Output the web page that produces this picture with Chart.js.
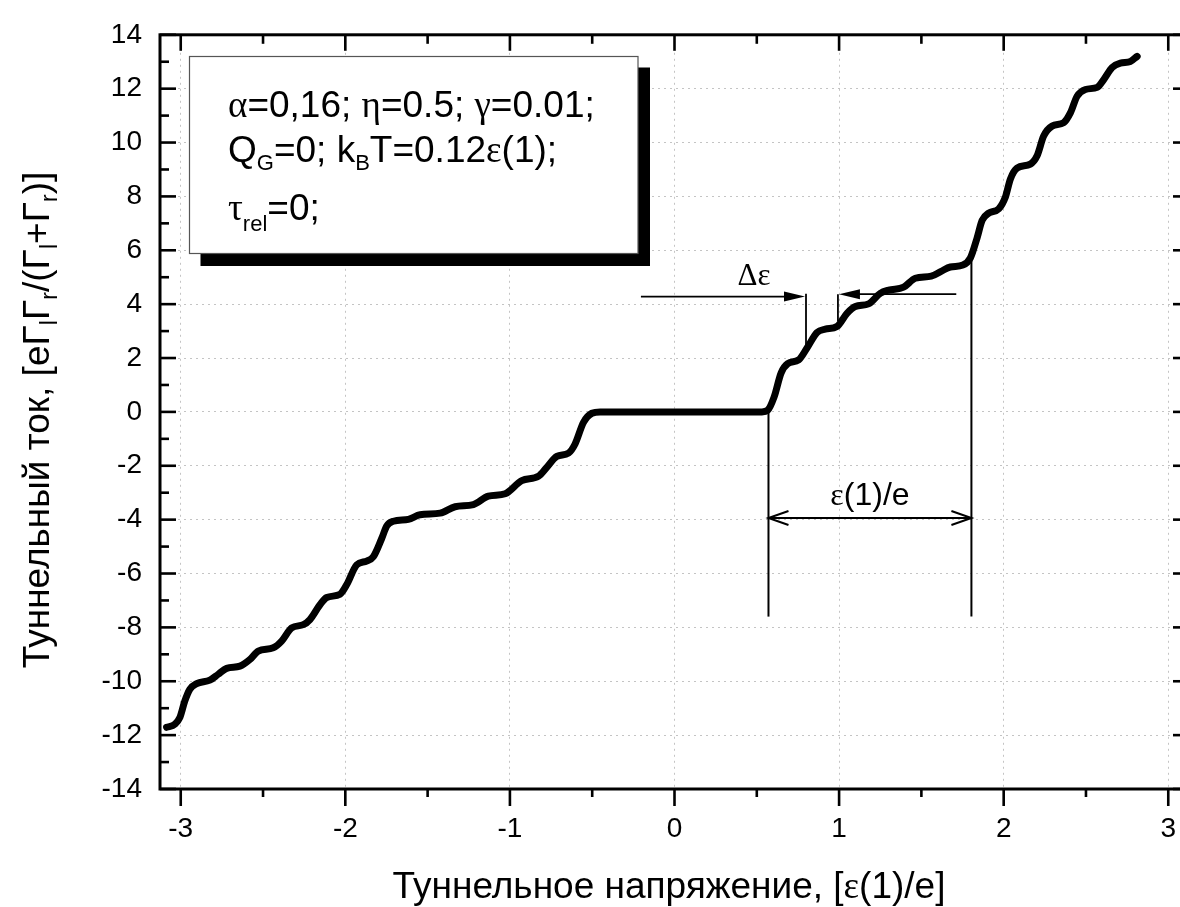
<!DOCTYPE html>
<html>
<head>
<meta charset="utf-8">
<script src="https://cdn.jsdelivr.net/npm/chart.js@4.4.0/dist/chart.umd.min.js"></script>
<style>
  html, body { margin: 0; padding: 0; background: #fff; overflow: hidden; }
  #wrap { width: 1200px; height: 907px; }
</style>
</head>
<body>
<div id="wrap"><canvas id="ivChart" width="1200" height="907"></canvas></div>
<script>
// Tunnel voltage, [e(1)/e]
const voltage = [
  -3.086, -3.035, -3.005, -2.975, -2.945, -2.903, -2.823, -2.772, -2.721, -2.640,
  -2.579, -2.529, -2.438, -2.387, -2.326, -2.255, -2.215, -2.154, -2.113, -2.032,
  -1.992, -1.931, -1.870, -1.830, -1.779, -1.748, -1.708, -1.617, -1.546, -1.424,
  -1.333, -1.222, -1.131, -1.029, -0.928, -0.827, -0.776, -0.715, -0.644, -0.604,
  -0.553, -0.502, -0.452, 0.531, 0.566, 0.605, 0.648, 0.688, 0.754, 0.805,
  0.866, 0.916, 0.987, 1.048, 1.099, 1.179, 1.250, 1.301, 1.392, 1.463,
  1.560, 1.620, 1.676, 1.752, 1.798, 1.838, 1.869, 1.909, 1.970, 2.010,
  2.041, 2.081, 2.162, 2.203, 2.243, 2.294, 2.365, 2.406, 2.446, 2.497,
  2.568, 2.608, 2.659, 2.709, 2.770, 2.811
];
// Tunnel current, [e G_l G_r / (G_l + G_r)]
const current = [
  -11.71, -11.59, -11.34, -10.73, -10.30, -10.09, -9.96, -9.74, -9.52, -9.44,
  -9.19, -8.88, -8.76, -8.51, -8.02, -7.90, -7.71, -7.16, -6.89, -6.77,
  -6.42, -5.68, -5.54, -5.38, -4.70, -4.23, -4.06, -3.99, -3.82, -3.76,
  -3.52, -3.44, -3.13, -3.04, -2.55, -2.39, -2.06, -1.65, -1.53, -1.19,
  -0.39, -0.05, 0, 0, 0.06, 0.55, 1.45, 1.79, 1.93, 2.37,
  2.95, 3.07, 3.17, 3.66, 3.91, 4.01, 4.40, 4.52, 4.63, 4.96,
  5.04, 5.22, 5.38, 5.45, 5.72, 6.45, 7.11, 7.38, 7.54, 7.97,
  8.65, 9.05, 9.20, 9.51, 10.24, 10.61, 10.74, 11.11, 11.72, 11.97,
  12.05, 12.34, 12.79, 12.95, 13.01, 13.20
];

const xTicks = [-3, -2, -1, 0, 1, 2, 3];
const xMinorTicks = [-2.5, -1.5, -0.5, 0.5, 1.5, 2.5];
const yTicks = [-14, -12, -10, -8, -6, -4, -2, 0, 2, 4, 6, 8, 10, 12, 14];
const yMinorTicks = [-13, -11, -9, -7, -5, -3, -1, 1, 3, 5, 7, 9, 11, 13];

// annotation points, in data units
const periodStart = 0.571;
const periodEnd = 1.804;
const periodTop = 5.63;
const markBottom = -7.6;
const periodArrowY = -3.94;
const gapLeft = 0.799;
const gapRight = 0.993;
const gapArrowFrom = -0.204;
const gapArrowTo = 1.712;

const SANS = '"Liberation Sans", Arial, sans-serif';
const SERIF = '"Liberation Serif", "Times New Roman", serif';

// text runs {t, f, dy}: measure and draw side by side
function runsWidth(ctx, runs) {
    let w = 0;
    runs.forEach(r => { ctx.font = r.f; w += ctx.measureText(r.t).width; });
    return w;
}
function drawRuns(ctx, x, y, runs) {
    runs.forEach(r => {
        ctx.font = r.f;
        ctx.fillText(r.t, x, y + (r.dy || 0));
        x += ctx.measureText(r.t).width;
    });
    return x;
}
function drawCentered(ctx, cx, baseY, runs) {
    const align = ctx.textAlign;
    ctx.textAlign = 'left';
    const w = runsWidth(ctx, runs);
    drawRuns(ctx, cx - w / 2, baseY, runs);
    ctx.textAlign = align;
}

function line(ctx, x1, y1, x2, y2) {
    ctx.beginPath();
    ctx.moveTo(x1, y1);
    ctx.lineTo(x2, y2);
    ctx.stroke();
}

function filledArrow(ctx, x1, x2, y) {
    const dir = x2 > x1 ? 1 : -1;
    line(ctx, x1, y, x2 - dir * 10, y);
    ctx.beginPath();
    ctx.moveTo(x2, y);
    ctx.lineTo(x2 - dir * 21, y - 5);
    ctx.lineTo(x2 - dir * 21, y + 5);
    ctx.closePath();
    ctx.fill();
}

function openHead(ctx, x, y, dir) {
    ctx.beginPath();
    ctx.moveTo(x + dir * 20, y - 7);
    ctx.lineTo(x, y);
    ctx.lineTo(x + dir * 20, y + 7);
    ctx.stroke();
}

const notesPlugin = {
    id: 'notes',
    afterDatasetsDraw(chart) {
        const {ctx, scales: {x, y}} = chart;
        ctx.save();
        ctx.fillStyle = '#000';
        ctx.strokeStyle = '#000';
        ctx.textBaseline = 'alphabetic';

        // period markers
        ctx.lineWidth = 2;
        const xs = x.getPixelForValue(periodStart);
        const xe = x.getPixelForValue(periodEnd);
        line(ctx, xs, y.getPixelForValue(0), xs, y.getPixelForValue(markBottom));
        line(ctx, xe, y.getPixelForValue(periodTop), xe, y.getPixelForValue(markBottom));
        const ya = y.getPixelForValue(periodArrowY);
        line(ctx, xs, ya, xe, ya);
        openHead(ctx, xs, ya, 1);
        openHead(ctx, xe, ya, -1);
        drawCentered(ctx, (xs + xe) / 2, ya - 13, [
            {t: 'ε', f: '32px ' + SERIF},
            {t: '(1)/e', f: '32px ' + SANS}
        ]);

        // gap markers
        ctx.lineWidth = 1.8;
        const gl = x.getPixelForValue(gapLeft);
        const gr = x.getPixelForValue(gapRight);
        line(ctx, gl, y.getPixelForValue(4.39), gl, y.getPixelForValue(2.43));
        line(ctx, gr, y.getPixelForValue(4.37), gr, y.getPixelForValue(3.37));
        filledArrow(ctx, x.getPixelForValue(gapArrowFrom), gl - 1, y.getPixelForValue(4.28));
        filledArrow(ctx, x.getPixelForValue(gapArrowTo), gr + 1, y.getPixelForValue(4.37));
        drawCentered(ctx, 754, 285, [{t: 'Δε', f: '31px ' + SERIF}]);

        // parameter box with shadow
        ctx.fillRect(200.5, 67.5, 449.5, 198.5);
        ctx.fillStyle = '#fff';
        ctx.fillRect(189.5, 56.5, 448.5, 197);
        ctx.strokeStyle = '#555';
        ctx.lineWidth = 1.2;
        ctx.strokeRect(189.5, 56.5, 448.5, 197);
        ctx.fillStyle = '#000';
        const big = '37px ' + SANS, greek = '37px ' + SERIF, sub = '22px ' + SANS;
        drawRuns(ctx, 228, 117, [
            {t: 'α', f: greek}, {t: '=0,16; ', f: big},
            {t: 'η', f: greek}, {t: '=0.5; ', f: big},
            {t: 'γ', f: greek}, {t: '=0.01;', f: big}
        ]);
        drawRuns(ctx, 228, 162, [
            {t: 'Q', f: big}, {t: 'G', f: sub, dy: 8},
            {t: '=0; k', f: big}, {t: 'B', f: sub, dy: 8},
            {t: 'T=0.12', f: big}, {t: 'ε', f: greek}, {t: '(1);', f: big}
        ]);
        drawRuns(ctx, 228, 220, [
            {t: 'τ', f: greek}, {t: 'rel', f: sub, dy: 11}, {t: '=0;', f: big}
        ]);
        ctx.restore();
    },
    afterDraw(chart) {
        const {ctx, chartArea: {left, right, top, bottom}, scales: {x, y}} = chart;
        ctx.save();
        ctx.strokeStyle = '#000';
        ctx.fillStyle = '#000';
        ctx.lineWidth = 2.6;
        xTicks.forEach(v => {
            const p = x.getPixelForValue(v);
            line(ctx, p, bottom, p, bottom + 17);
            line(ctx, p, top, p, top + 16);
        });
        xMinorTicks.forEach(v => {
            const p = x.getPixelForValue(v);
            line(ctx, p, bottom, p, bottom + 8);
            line(ctx, p, top, p, top + 9);
        });
        yTicks.forEach(v => {
            const p = y.getPixelForValue(v);
            line(ctx, left, p, left + 16, p);
            line(ctx, right, p, right - 16, p);
        });
        yMinorTicks.forEach(v => {
            const p = y.getPixelForValue(v);
            line(ctx, left, p, left + 9, p);
            line(ctx, right, p, right - 9, p);
        });
        ctx.lineWidth = 3;
        ctx.strokeRect(left, top, right - left, bottom - top);

        // axis titles
        ctx.textBaseline = 'alphabetic';
        const tf = '37px ' + SANS, ts = '23px ' + SANS;
        drawCentered(ctx, 669, 898, [
            {t: 'Туннельное напряжение, [', f: tf},
            {t: 'ε', f: '37px ' + SERIF},
            {t: '(1)/e]', f: tf}
        ]);
        ctx.translate(49, 420);
        ctx.rotate(-Math.PI / 2);
        drawCentered(ctx, 0, 0, [
            {t: 'Туннельный ток, [eΓ', f: tf}, {t: 'l', f: ts, dy: 8},
            {t: 'Γ', f: tf}, {t: 'r', f: ts, dy: 8},
            {t: '/(Γ', f: tf}, {t: 'l', f: ts, dy: 8},
            {t: '+Γ', f: tf}, {t: 'r', f: ts, dy: 8},
            {t: ')]', f: tf}
        ]);
        ctx.restore();
    }
};

const tickFont = {family: SANS, size: 28};

new Chart(document.getElementById('ivChart'), {
    type: 'line',
    data: {
        datasets: [{
            data: voltage.map((v, i) => ({x: v, y: current[i]})),
            borderColor: '#000',
            borderWidth: 7,
            pointRadius: 0,
            fill: false,
            cubicInterpolationMode: 'monotone',
            borderCapStyle: 'round',
            borderJoinStyle: 'round'
        }]
    },
    options: {
        responsive: false,
        animation: false,
        events: [],
        layout: {
            padding: {top: 30, right: 11, left: 0, bottom: 0}
        },
        plugins: {
            legend: {display: false},
            tooltip: {enabled: false}
        },
        scales: {
            x: {
                type: 'linear',
                min: -3.126,
                max: 3.126,
                afterBuildTicks: s => { s.ticks = xTicks.map(v => ({value: v})); },
                afterFit: s => { s.height = 118; },
                grid: {color: '#c4c4c4', lineWidth: 1, drawTicks: false},
                border: {display: false, dash: [2, 4]},
                ticks: {
                    padding: 23,
                    color: '#000',
                    font: tickFont,
                    maxRotation: 0,
                    autoSkip: false,
                    callback: v => String(v)
                }
            },
            y: {
                type: 'linear',
                min: -14,
                max: 14,
                afterBuildTicks: s => { s.ticks = yTicks.map(v => ({value: v})); },
                afterFit: s => { s.width = 160; },
                grid: {color: '#c4c4c4', lineWidth: 1, drawTicks: false},
                border: {display: false, dash: [2, 4]},
                ticks: {
                    padding: 18,
                    color: '#000',
                    font: tickFont,
                    autoSkip: false,
                    callback: v => String(v)
                }
            }
        }
    },
    plugins: [notesPlugin]
});
</script>
</body>
</html>
